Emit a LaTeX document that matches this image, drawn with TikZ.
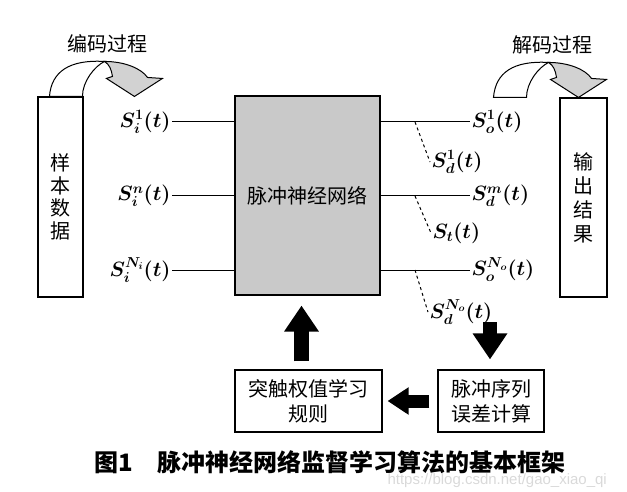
\documentclass[tikz,border=0pt]{standalone}
\usepackage{amsmath,amssymb}
\usepackage[no-math]{fontspec}
\setmainfont{Noto Sans CJK SC}
\setsansfont{Liberation Sans}
\usepackage{tikz}
\usetikzlibrary{arrows.meta, positioning, calc}
\tikzstyle{box} = [draw, line width=1.1pt, inner sep=0pt, align=center, font=\fontsize{20}{25}\selectfont]
\tikzstyle{sig} = [inner sep=1pt, font=\fontsize{20.5}{24}\selectfont\boldmath]
\tikzstyle{bigarrow} = [line width=14.5pt, -{Triangle[length=26pt, width=33pt]}]
\tikzset{curvedarrow/.pic={
    \draw[fill=white] (0,0) .. controls (2,-25) and (20,-37) .. (55,-35) .. controls (45,-30) and (33,-15) .. (33,0) -- cycle;
    \draw[fill=gray!35] (55,-35) .. controls (75,-35) and (92,-28) .. (98,-19) -- (113,-18) -- (85,0) -- (57,-18) -- (63,-20) .. controls (62,-27) and (60,-32) .. (55,-35) -- cycle;
}}

\begin{document}
\begin{tikzpicture}[x=1pt, y=-1pt, line width=1pt]
    \useasboundingbox (0,0) rectangle (627,492);

    \node[box, minimum width=45pt, minimum height=200pt, font=\fontsize{20}{22.5}\selectfont] (sample) at (60.5,197) {样\\本\\数\\据};
    \node[box, minimum width=145pt, minimum height=199pt, fill=gray!42] (snn) at (307.5,195.5) {脉冲神经网络};
    \node[box, minimum width=47pt, minimum height=199pt, font=\fontsize{20}{24}\selectfont] (output) at (583.5,197.5) {输\\出\\结\\果};
    \node[box, minimum width=147pt, minimum height=62pt] (rule) at (308.5,401) {突触权值学习\\规则};
    \node[box, minimum width=106pt, minimum height=62pt] (error) at (491,401) {脉冲序列\\误差计算};

    \node[font=\fontsize{20}{24}\selectfont] (enc) at (107,44) {编码过程};
    \node[font=\fontsize{20}{24}\selectfont] (dec) at (552,45) {解码过程};
    \pic at ($(sample.north west)+(12,0)$) {curvedarrow};
    \pic at ($(output.north)+(-90,0)$) {curvedarrow};

    % input spike trains
    \node[sig, anchor=east] (si1) at (172,122) {$S_i^1(t)$};
    \node[sig, anchor=east] (sin) at (172,196) {$S_i^n(t)$};
    \node[sig, anchor=east] (siN) at (172,270) {$S_i^{N_i}(t)$};
    \draw (si1) -- (si1 -| snn.west);
    \draw (sin) -- (sin -| snn.west);
    \draw (siN) -- (siN -| snn.west);

    % output and desired spike trains
    \node[sig, anchor=west] (so1) at (470,122) {$S_o^1(t)$};
    \node[sig, anchor=west] (sdm) at (470,196) {$S_d^m(t)$};
    \node[sig, anchor=west] (soN) at (470,270) {$S_o^{N_o}(t)$};
    \draw (so1 -| snn.east) -- (so1);
    \draw (sdm -| snn.east) -- (sdm);
    \draw (soN -| snn.east) -- (soN);
    \node[sig, anchor=west] (sd1) at (430,162) {$S_d^1(t)$};
    \node[sig, anchor=west] (st) at (431,233) {$S_t(t)$};
    \node[sig, anchor=west] (sdN) at (428,312) {$S_d^{N_o}(t)$};
    \coordinate (tap1) at (415,122);
    \coordinate (tap2) at (415,196);
    \coordinate (tap3) at (415,270);
    \draw[dashed] (tap1) -- (sd1.west);
    \draw[dashed] (tap2) -- (st.west);
    \draw[dashed] (tap3) -- (sdN.west);

    % learning loop
    \coordinate (drop) at (490,322);
    \draw[bigarrow, shorten >=10pt] (drop) -- (drop |- error.north);
    \draw[bigarrow, line width=13pt, -{Triangle[length=21pt, width=26pt]}, shorten <=8pt, shorten >=5pt] (error.west) -- (rule.east);
    \draw[bigarrow, shorten <=8pt, shorten >=10pt] ([xshift=-7pt]rule.north) -- ([xshift=-7pt]rule.north |- snn.south);

    \node[font=\fontsize{24}{26}\selectfont\bfseries] (cap) at (330,462) {图1\quad 脉冲神经网络监督学习算法的基本框架};
    \node[font=\sffamily\fontsize{15}{15}\selectfont, text=gray!30, anchor=west, inner sep=0pt] (wm) at (387,481) {https://blog.csdn.net/gao\_xiao\_qi};
\end{tikzpicture}
\end{document}
